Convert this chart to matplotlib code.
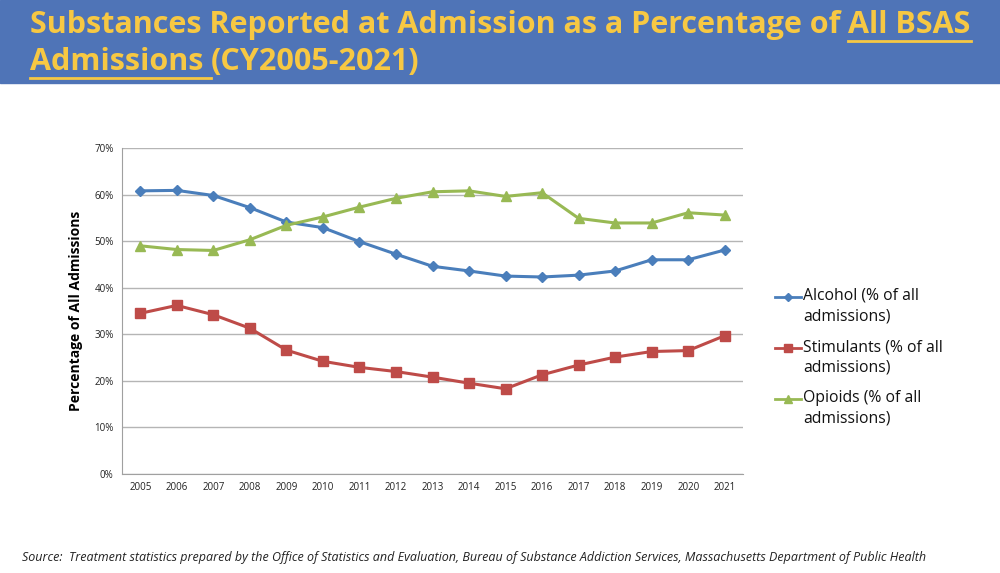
import matplotlib
matplotlib.use("Agg")
import matplotlib.pyplot as plt
from matplotlib.lines import Line2D
from matplotlib.patches import Rectangle
from matplotlib.ticker import FuncFormatter, MultipleLocator

plt.rcParams["font.family"] = ["Open Sans", "DejaVu Sans"]

years = [str(y) for y in range(2005, 2022)]
alcohol = [60.8, 60.9, 59.8, 57.2, 54.1, 52.9, 49.9, 47.2, 44.6, 43.6, 42.5, 42.3, 42.7, 43.6, 46.0, 46.0, 48.1]
stimulants = [34.5, 36.2, 34.2, 31.3, 26.6, 24.2, 22.9, 22.0, 20.8, 19.5, 18.3, 21.3, 23.4, 25.1, 26.3, 26.5, 29.7]
opioids = [49.0, 48.2, 48.0, 50.3, 53.4, 55.2, 57.3, 59.2, 60.6, 60.8, 59.6, 60.4, 54.9, 53.9, 53.9, 56.1, 55.6]
labels = ["Alcohol (% of all\nadmissions)", "Stimulants (% of all\nadmissions)", "Opioids (% of all\nadmissions)"]

fig = plt.figure(figsize=(10, 5.73), dpi=100)

# header band
fig.patches.append(Rectangle((0, 1 - 83 / 573), 1, 83 / 573, transform=fig.transFigure,
                             color="#4F74B7", zorder=0))

ttl_col = "#F7C843"
fs = 22
t1 = fig.text(0.030, 1 - 25 / 573, "Substances Reported at Admission as a Percentage of ",
              color=ttl_col, fontsize=fs, fontweight="bold", va="center", ha="left")
fig.canvas.draw()
r = fig.canvas.get_renderer()
bb1 = t1.get_window_extent(r)
t2 = fig.text(bb1.x1 / 1000, 1 - 25 / 573, "All BSAS", color=ttl_col, fontsize=fs,
              fontweight="bold", va="center", ha="left")
t3 = fig.text(0.030, 1 - 62 / 573, "Admissions ", color=ttl_col, fontsize=fs,
              fontweight="bold", va="center", ha="left")
fig.canvas.draw()
bb2 = t2.get_window_extent(r)
bb3 = t3.get_window_extent(r)
t4 = fig.text(bb3.x1 / 1000, 1 - 62 / 573, "(CY2005-2021)", color=ttl_col, fontsize=fs,
              fontweight="bold", va="center", ha="left")
# underlines
for bb, yy in [(bb2, 41), (bb3, 78)]:
    fig.lines.append(Line2D([bb.x0 / 1000, bb.x1 / 1000], [1 - yy / 573, 1 - yy / 573],
                            transform=fig.transFigure, color=ttl_col, lw=2))

ax = fig.add_axes([0.122, 1 - 474 / 573, 0.621, 326 / 573])
x = range(len(years))
l1, = ax.plot(x, alcohol, color="#4A7EBB", lw=2.2, marker="D", ms=5, label=labels[0])
l2, = ax.plot(x, stimulants, color="#BE4B48", lw=2.2, marker="s", ms=6.5, label=labels[1])
l3, = ax.plot(x, opioids, color="#98B954", lw=2.2, marker="^", ms=7, label=labels[2])

ax.set_xlim(-0.5, len(years) - 0.5)
ax.set_ylim(0, 70)
ax.set_xticks(list(x))
ax.set_xticklabels(years)
ax.yaxis.set_major_locator(MultipleLocator(10))
ax.yaxis.set_major_formatter(FuncFormatter(lambda v, p: f"{v:.0f}%"))
ax.tick_params(axis="both", length=0, labelsize=7, colors="#222222", pad=6)
ax.grid(axis="y", color="#B5B5B5", lw=1)
ax.set_axisbelow(True)
for s in ["top", "right"]:
    ax.spines[s].set_visible(False)
for s in ["left", "bottom"]:
    ax.spines[s].set_color("#A0A0A0")
ax.set_ylabel("Percentage of All Admissions", fontsize=10, fontweight="bold", labelpad=8)

# legend: handle next to the first line of each wrapped label (Excel style)
for i, ln in enumerate([l1, l2, l3]):
    ytop = 297 + i * 51
    fig.lines.append(Line2D([775 / 1000, 788 / 1000, 801 / 1000], [1 - ytop / 573] * 3,
                            transform=fig.transFigure, color=ln.get_color(), lw=2,
                            marker=ln.get_marker(), markevery=[1],
                            ms=ln.get_markersize() * 0.8))
    fig.text(803 / 1000, 1 - (ytop - 9) / 573, ln.get_label(), fontsize=11.3, va="top",
             ha="left", color="#111111", linespacing=1.35)

fig.text(0.022, 1 - 557 / 573, "Source:  Treatment statistics prepared by the Office of Statistics and Evaluation, "
         "Bureau of Substance Addiction Services, Massachusetts Department of Public Health",
         fontsize=9, style="italic", va="center", ha="left", color="#222222")

fig.savefig("out.png", dpi=100)
